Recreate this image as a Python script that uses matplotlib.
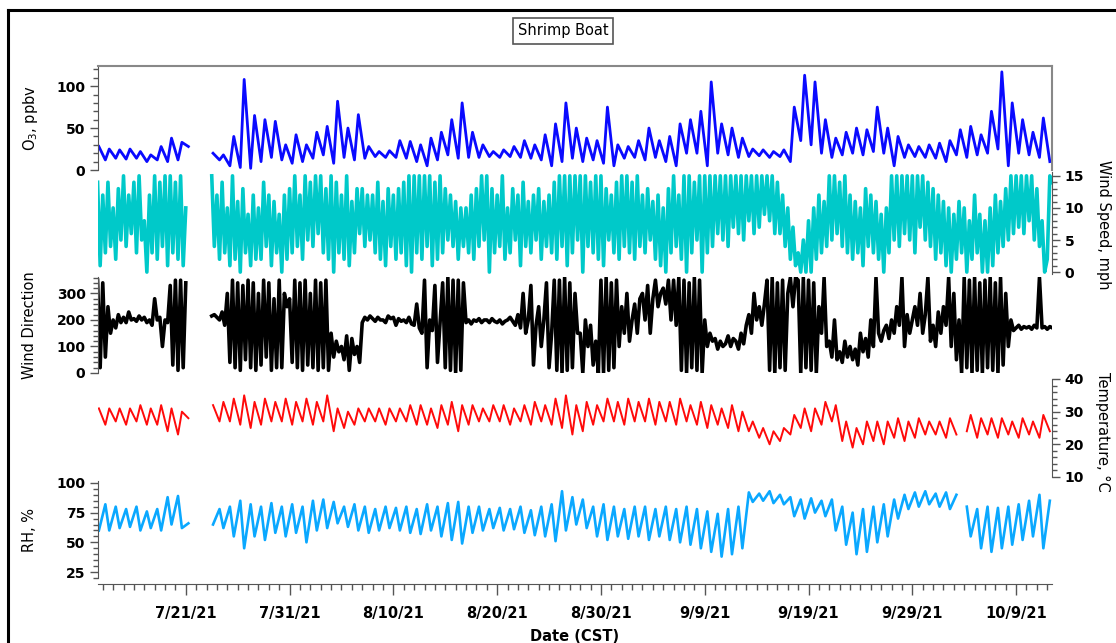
import numpy as np
import pandas as pd
import matplotlib
matplotlib.use("Agg")
import matplotlib.pyplot as plt
import matplotlib.dates as mdates
from matplotlib.lines import Line2D
from matplotlib.ticker import MultipleLocator

plt.rcParams['font.family'] = ['DejaVu Sans']
plt.rcParams['font.size'] = 10

nan = np.nan

# one row per day, 7/12/21 .. 10/12/21
# morning (06:00) and afternoon (15:00) readings
o3_am = [nan, 12, 14, 13, 14, 10, 12, 10, 12, 28, nan, nan,
         12, 5, 3, 2, 10, 15, 12, 8, 10, 14, 18, 8, 15, 12, 14, 16, 15, 15,
         14, 10, 5, 12, 18, 14, 15, 15, 16, 15, 16, 15, 14, 12, 5, 10, 14, 10,
         12, 8, 5, 14, 15, 12, 15, 10, 5, 20, 20, 5, 20, 18, 15, 16, 17, 15,
         16, 10, 35, 30, 20, 15, 18, 20, 18, 22, 20, 5, 15, 16, 15, 14, 10, 18,
         15, 18, 20, 25, 5, 20, 18, 15, 10]
o3_pm = [28, 25, 24, 25, 22, 18, 28, 38, 33, nan, nan, 20,
         18, 40, 108, 65, 60, 58, 30, 42, 30, 45, 52, 82, 50, 66, 28, 22, 23, 35,
         34, 30, 38, 45, 60, 80, 45, 30, 22, 24, 28, 35, 30, 42, 55, 80, 50, 38,
         35, 75, 30, 28, 35, 50, 35, 40, 55, 60, 70, 105, 55, 50, 38, 25, 24, 22,
         24, 75, 113, 105, 60, 38, 45, 50, 48, 75, 50, 40, 30, 28, 30, 32, 35, 48,
         52, 42, 70, 117, 80, 60, 45, 62, nan]

temp_am = [nan, 26, 27, 26, 27, 26, 26, 24, 23, 28, nan, nan,
           27, 27, 26, 25, 26, 27, 27, 26, 27, 26, 27, 24, 25, 26, 27, 27, 26, 27,
           27, 26, 26, 25, 26, 24, 26, 27, 27, 27, 26, 27, 26, 27, 26, 25, 23, 24,
           26, 27, 27, 26, 27, 27, 26, 27, 26, 27, 26, 25, 26, 25, 24, 24, 22, 20,
           21, 23, 25, 24, 26, 27, 21, 19, 20, 21, 20, 22, 21, 22, 23, 23, 22, 23,
           24, 22, 23, 22, 23, 22, 23, 22, 24]
temp_pm = [31, 31, 31, 31, 32, 31, 32, 31, 30, nan, nan, 32,
           33, 34, 35, 33, 34, 33, 34, 33, 34, 33, 35, 31, 30, 31, 31, 31, 31, 31,
           32, 32, 31, 32, 33, 32, 32, 31, 32, 32, 31, 32, 33, 32, 34, 35, 32, 33,
           32, 34, 33, 34, 33, 34, 33, 33, 34, 32, 33, 32, 31, 32, 30, 27, 25, 24,
           25, 29, 31, 31, 33, 32, 27, 25, 27, 27, 27, 28, 27, 28, 27, 27, 28, nan,
           29, 28, 28, 28, 27, 28, 27, 29, nan]

rh_am = [nan, 82, 80, 78, 80, 76, 78, 88, 89, 66, nan, nan,
         78, 80, 85, 82, 80, 83, 80, 82, 80, 85, 86, 84, 80, 82, 80, 78, 80, 79,
         80, 78, 82, 80, 83, 84, 80, 80, 78, 79, 78, 80, 77, 80, 82, 93, 88, 86,
         80, 82, 80, 78, 80, 80, 78, 80, 78, 80, 78, 76, 74, 78, 80, 92, 91, 93,
         90, 88, 86, 87, 85, 86, 80, 75, 78, 80, 82, 86, 90, 92, 93, 91, 92, 90,
         80, 78, 80, 79, 80, 82, 85, 90, 85]
rh_pm = [60, 60, 62, 63, 60, 62, 60, 65, 62, nan, nan, 65,
         62, 55, 45, 55, 52, 58, 55, 58, 50, 60, 62, 66, 63, 60, 58, 60, 62, 60,
         58, 57, 60, 55, 52, 49, 58, 60, 62, 60, 61, 58, 56, 55, 51, 60, 65, 62,
         55, 52, 55, 53, 55, 52, 55, 52, 50, 48, 45, 42, 38, 40, 45, 84, 85, 83,
         82, 72, 70, 75, 72, 60, 48, 40, 42, 50, 55, 70, 78, 80, 82, 80, 78, nan,
         55, 45, 42, 45, 48, 52, 55, 45, nan]

# six-hourly readings (00, 06, 12, 18 h)
wind_speed = [
    nan, nan, 14, 1,   12, 3, 14, 4,   10, 2, 13, 5,   15, 4, 12, 6,
    14, 3, 15, 5,      8, 0, 12, 3,    15, 2, 14, 4,   15, 1, 15, 3,
    14, 2, 15, 1,      10, nan, nan, nan,   nan, nan, nan, nan,   nan, nan, 15, 4,
    12, 2, 14, 3,      10, 1, 15, 2,   11, 0, 13, 3,   9, 1, 12, 2,
    10, 2, 14, 4,      12, 1, 11, 3,   9, 0, 12, 2,    13, 3, 15, 4,
    12, 2, 15, 5,      14, 4, 15, 6,   15, 3, 13, 2,   15, 0, 14, 3,
    12, 2, 15, 1,      11, 3, 13, 6,   13, 4, 12, 5,   12, 3, 14, 2,
    11, 1, 13, 4,      12, 2, 13, 3,   14, 1, 15, 0,   15, 3, 15, 2,
    15, 4, 15, 1,      14, 2, 15, 3,   13, 5, 12, 4,   11, 2, 10, 4,
    10, 3, 12, 2,      13, 4, 15, 5,   15, 0, 13, 3,   12, 4, 15, 2,
    10, 3, 13, 5,      12, 1, 14, 4,   11, 3, 12, 5,   13, 2, 11, 4,
    12, 3, 14, 2,      15, 4, 15, 1,   15, 3, 15, 5,   15, 0, 15, 4,
    14, 3, 15, 2,      15, 1, 13, 5,   12, 3, 14, 2,   15, 4, 15, 3,
    14, 2, 15, 4,      12, 3, 13, 5,   11, 2, 12, 1,   10, 0, 13, 3,
    15, 4, 12, 2,      15, 0, 15, 3,   14, 5, 15, 0,   15, 3, 15, 4,
    15, 6, 15, 5,      15, 4, 15, 7,   15, 6, 15, 5,   15, 8, 15, 6,
    15, 7, 15, 9,      15, 8, 15, 6,   14, 6, 12, 4,   10, 2, 7, 1,
    3, 0, 5, 0,        8, 0, 10, 2,    12, 3, 11, 4,   15, 5, 15, 6,
    14, 4, 15, 3,      12, 2, 11, 3,   10, 1, 13, 4,   12, 3, 11, 2,
    9, 0, 10, 3,       15, 5, 15, 4,   15, 6, 15, 5,   15, 3, 15, 7,
    15, 5, 14, 4,      13, 2, 12, 3,   11, 1, 10, 0,   9, 2, 11, 3,
    10, 0, 8, 2,       12, 3, 9, 0,    8, 0, 10, 1,    12, 3, 11, 4,
    13, 5, 15, 6,      15, 7, 15, 6,   15, 8, 15, 5,   13, 4, 8, 0,
    2, 15, 14, nan]

wind_dir = [
    nan, nan, 350, 20,      340, 60, 250, 150,     200, 170, 220, 190,     210, 190, 230, 200,
    205, 195, 215, 200,     210, 190, 200, 180,    280, 200, 210, 100,     200, 190, 330, 30,
    350, 10, 350, 20,       340, nan, nan, nan,    nan, nan, nan, nan,     nan, nan, 215, 220,
    210, 200, 230, 180,     300, 40, 350, 20,      340, 10, 330, 50,       350, 20, 340, 10,
    300, 30, 350, 60,       340, 10, 280, 20,      350, 20, 300, 250,      280, 40, 350, 20,
    340, 10, 350, 30,       300, 20, 350, 10,      340, 20, 350, 10,       150, 60, 120, 80,
    100, 50, 140, 10,       130, 70, 100, 40,      190, 210, 200, 215,     205, 195, 210, 200,
    200, 190, 215, 205,     210, 180, 205, 195,    200, 190, 210, 185,     180, 260, 170, 150,
    350, 20, 200, 160,      330, 40, 190, 340,     20, 360, 10, 350,       0, 350, 10, 340,
    190, 200, 185, 200,     195, 205, 190, 200,    200, 190, 205, 195,     190, 200, 185, 195,
    200, 210, 195, 180,     220, 170, 300, 150,    200, 330, 30, 180,      250, 100, 200, 340,
    20, 150, 350, 10,       350, 0, 360, 10,       340, 20, 300, 150,      150, 0, 200, 100,
    180, 30, 120, 0,        350, 0, 360, 10,       340, 20, 350, 100,      250, 150, 300, 120,
    200, 260, 150, 280,     300, 200, 330, 150,    280, 350, 250, 300,     320, 260, 350, 200,
    350, 180, 360, 10,      350, 0, 340, 20,       360, 10, 350, 0,        200, 100, 150, 120,
    130, 90, 120, 100,      110, 140, 100, 130,    120, 90, 150, 110,      180, 220, 150, 300,
    200, 250, 180, 260,     350, 10, 360, 0,       340, 20, 350, 10,       300, 360, 250, 360,
    350, 0, 360, 20,        350, 10, 340, 0,       250, 150, 360, 100,     120, 60, 200, 50,
    80, 40, 120, 60,        100, 50, 90, 30,       150, 80, 130, 60,       200, 100, 360, 150,
    120, 160, 180, 130,     200, 150, 250, 180,    360, 100, 220, 150,     200, 250, 180, 300,
    150, 220, 360, 120,     180, 100, 230, 150,    250, 180, 360, 100,     300, 50, 200, 0,
    360, 20, 350, 0,        360, 10, 340, 0,       350, 20, 360, 10,       340, 0, 360, 30,
    300, 100, 200, 160,     170, 180, 165, 175,    170, 175, 165, 180,     170, 360, 170, 175,
    165, 175, 170, nan]

days = pd.date_range('2021-07-12', periods=len(o3_am), freq='D')
t_day = np.ravel(np.column_stack([mdates.date2num(days + pd.Timedelta(hours=6)),
                                  mdates.date2num(days + pd.Timedelta(hours=15))]))
t_6h = mdates.date2num(pd.date_range('2021-07-12', periods=len(wind_speed), freq='6h'))


def pairs(am, pm):
    return np.ravel(np.column_stack([am, pm]))


W, H = 1116, 643
fig = plt.figure(figsize=(W / 100, H / 100), dpi=100)


def panel(top, bottom):
    return fig.add_axes([98 / W, 1 - bottom / H, (1052 - 98) / W, (bottom - top) / H])


ax_o3 = panel(66, 170)
ax_ws = panel(172, 274)
ax_wd = panel(277, 373)
ax_t = panel(379, 477)
ax_rh = panel(481, 578)

xmin = mdates.date2num(pd.Timestamp('2021-07-12 13:00'))
xmax = mdates.date2num(pd.Timestamp('2021-10-12 11:00'))

ax_o3.plot(t_day, pairs(o3_am, o3_pm), color='#0a0aff', lw=2.0)
ax_ws.plot(t_6h, wind_speed, color='#00c9c9', lw=2.6)
ax_wd.plot(t_6h, wind_dir, color='black', lw=2.6)
ax_t.plot(t_day, pairs(temp_am, temp_pm), color='#ff0a0a', lw=1.4)
ax_rh.plot(t_day, pairs(rh_am, rh_pm), color='#0aa8ff', lw=1.9)

ax_o3.set_ylim(0, 124)
ax_ws.set_ylim(-0.3, 15.6)
ax_wd.set_ylim(0, 362)
ax_t.set_ylim(10, 40)
ax_rh.set_ylim(20, 101.6)

spine_col = '#555555'
for ax in (ax_o3, ax_ws, ax_wd, ax_t, ax_rh):
    ax.set_xlim(xmin, xmax)
    ax.patch.set_visible(False)
    for s in ax.spines.values():
        s.set_visible(False)
        s.set_color(spine_col)
    ax.tick_params(axis='both', which='major', length=6, width=1, color=spine_col,
                   labelsize=10, pad=3)
    ax.tick_params(axis='both', which='minor', length=3.5, width=1, color=spine_col)
    ax.set_xticks([])

# left hand axes
for ax, major, minor in ((ax_o3, 50, 10), (ax_wd, 100, 20), (ax_rh, 25, 5)):
    ax.spines['left'].set_visible(True)
    ax.yaxis.set_major_locator(MultipleLocator(major))
    ax.yaxis.set_minor_locator(MultipleLocator(minor))

# right hand axes
for ax, major, minor in ((ax_ws, 5, 1), (ax_t, 10, 2)):
    ax.spines['right'].set_visible(True)
    ax.yaxis.tick_right()
    ax.yaxis.set_major_locator(MultipleLocator(major))
    ax.yaxis.set_minor_locator(MultipleLocator(minor))

ax_o3.set_yticks([0, 50, 100])
ax_wd.set_yticks([0, 100, 200, 300])
ax_ws.set_yticks([0, 5, 10, 15])
ax_t.set_yticks([10, 20, 30, 40])
ax_rh.set_yticks([25, 50, 75, 100])
for ax in (ax_o3, ax_ws, ax_wd, ax_t, ax_rh):
    for lab in ax.get_yticklabels():
        lab.set_fontweight('bold')

# box around the ozone panel
for side in ('top', 'right'):
    ax_o3.spines[side].set_visible(True)
    ax_o3.spines[side].set_color('#888888')
    ax_o3.spines[side].set_linewidth(1.5)

# date axis under the RH panel
ax_rh.spines['bottom'].set_visible(True)
ax_rh.spines['bottom'].set_position(('outward', 4))
ticks = mdates.date2num(pd.to_datetime(['2021-07-21', '2021-07-31', '2021-08-10', '2021-08-20',
                                        '2021-08-30', '2021-09-09', '2021-09-19', '2021-09-29',
                                        '2021-10-09']))
ax_rh.set_xticks(ticks)
ax_rh.set_xticklabels(['7/21/21', '7/31/21', '8/10/21', '8/20/21', '8/30/21',
                       '9/9/21', '9/19/21', '9/29/21', '10/9/21'], fontweight='bold', fontsize=10.5)
ax_rh.xaxis.set_minor_locator(mdates.DayLocator())
ax_rh.tick_params(axis='x', which='major', length=8, pad=8)
ax_rh.tick_params(axis='x', which='minor', length=4.5)
ax_rh.set_xlim(xmin, xmax)
ax_rh.set_xlabel('Date (CST)', fontsize=10.5, fontweight='bold', labelpad=6)

# axis titles
fig.text(30 / W, 1 - 118 / H, 'O$_3$, ppbv', rotation=90, ha='center', va='center', fontsize=10.5)
fig.text(30 / W, 1 - 325 / H, 'Wind Direction', rotation=90, ha='center', va='center', fontsize=10.5)
fig.text(30 / W, 1 - 530 / H, 'RH, %', rotation=90, ha='center', va='center', fontsize=10.5)
fig.text(1103 / W, 1 - 225 / H, 'Wind Speed, mph', rotation=270, ha='center', va='center', fontsize=10.5)
fig.text(1103 / W, 1 - 432 / H, 'Temperature, °C', rotation=270, ha='center', va='center', fontsize=10.5)

fig.text(563 / W, 1 - 31 / H, 'Shrimp Boat', ha='center', va='center', fontsize=10.5,
         bbox=dict(boxstyle='square,pad=0.35', fc='white', ec='#555555', lw=1.2))

# outer frame
fig.add_artist(Line2D([8 / W, 1], [1 - 10 / H, 1 - 10 / H], transform=fig.transFigure,
                      color='black', lw=2.2))
fig.add_artist(Line2D([8 / W, 8 / W], [0, 1 - 10 / H], transform=fig.transFigure,
                      color='black', lw=2.2))

fig.savefig('out.png', dpi=100)
